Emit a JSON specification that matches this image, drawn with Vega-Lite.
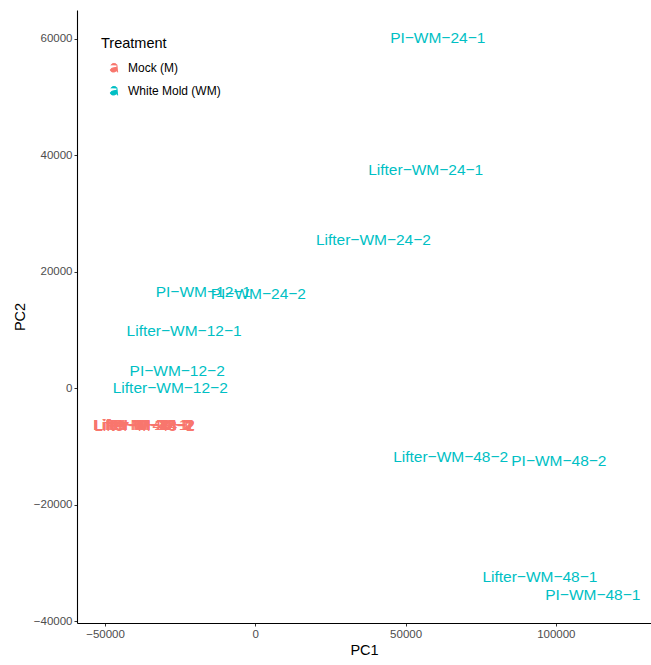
{
  "$schema": "https://vega.github.io/schema/vega-lite/v6.json",
  "width": 574,
  "height": 613,
  "autosize": "none",
  "padding": {"left": 77, "top": 10, "right": 0, "bottom": 42},
  "background": "white",
  "config": {
    "view": {"stroke": null},
    "font": "Liberation Sans",
    "axis": {
      "grid": false,
      "domainColor": "#000000",
      "domainWidth": 1.1,
      "tickColor": "#333333",
      "tickSize": 3,
      "tickWidth": 1,
      "labelColor": "#4D4D4D",
      "labelFont": "Liberation Sans",
      "labelFontSize": 11.5,
      "labelPadding": 2,
      "titleFont": "Liberation Sans",
      "titleFontSize": 14.5,
      "titleFontWeight": "normal",
      "titleColor": "#000000"
    }
  },
  "data": {
    "values": [
      {"label": "PI−WM−24−1", "Treatment": "White Mold (WM)", "PC1": 60700, "PC2": 60100},
      {"label": "Lifter−WM−24−1", "Treatment": "White Mold (WM)", "PC1": 56700, "PC2": 37500},
      {"label": "Lifter−WM−24−2", "Treatment": "White Mold (WM)", "PC1": 39300, "PC2": 25500},
      {"label": "PI−WM−12−1", "Treatment": "White Mold (WM)", "PC1": -17300, "PC2": 16600},
      {"label": "PI−WM−24−2", "Treatment": "White Mold (WM)", "PC1": 1000, "PC2": 16100},
      {"label": "Lifter−WM−12−1", "Treatment": "White Mold (WM)", "PC1": -23700, "PC2": 9900},
      {"label": "PI−WM−12−2", "Treatment": "White Mold (WM)", "PC1": -26000, "PC2": 2900},
      {"label": "Lifter−WM−12−2", "Treatment": "White Mold (WM)", "PC1": -28300, "PC2": 0},
      {"label": "Lifter−WM−48−2", "Treatment": "White Mold (WM)", "PC1": 65000, "PC2": -11800},
      {"label": "PI−WM−48−2", "Treatment": "White Mold (WM)", "PC1": 101000, "PC2": -12500},
      {"label": "Lifter−WM−48−1", "Treatment": "White Mold (WM)", "PC1": 94700, "PC2": -32400},
      {"label": "PI−WM−48−1", "Treatment": "White Mold (WM)", "PC1": 112300, "PC2": -35500},
      {"label": "Lifter−M−12−1", "Treatment": "Mock (M)", "PC1": -37300, "PC2": -6300},
      {"label": "Lifter−M−12−2", "Treatment": "Mock (M)", "PC1": -37100, "PC2": -6400},
      {"label": "Lifter−M−24−1", "Treatment": "Mock (M)", "PC1": -37000, "PC2": -6250},
      {"label": "Lifter−M−24−2", "Treatment": "Mock (M)", "PC1": -36800, "PC2": -6350},
      {"label": "Lifter−M−48−1", "Treatment": "Mock (M)", "PC1": -37200, "PC2": -6300},
      {"label": "Lifter−M−48−2", "Treatment": "Mock (M)", "PC1": -36900, "PC2": -6450},
      {"label": "PI−M−12−1", "Treatment": "Mock (M)", "PC1": -35500, "PC2": -6300},
      {"label": "PI−M−12−2", "Treatment": "Mock (M)", "PC1": -34500, "PC2": -6400},
      {"label": "PI−M−24−1", "Treatment": "Mock (M)", "PC1": -35000, "PC2": -6250},
      {"label": "PI−M−24−2", "Treatment": "Mock (M)", "PC1": -33700, "PC2": -6350},
      {"label": "PI−M−48−1", "Treatment": "Mock (M)", "PC1": -36000, "PC2": -6300},
      {"label": "PI−M−48−2", "Treatment": "Mock (M)", "PC1": -34000, "PC2": -6400}
    ]
  },
  "mark": {"type": "text", "fontSize": 15.5, "font": "Liberation Sans", "baseline": "middle", "align": "center"},
  "encoding": {
    "x": {
      "field": "PC1", "type": "quantitative",
      "scale": {"domain": [-59333, 131667], "nice": false, "zero": false},
      "axis": {"values": [-50000, 0, 50000, 100000], "format": "d", "title": "PC1", "titlePadding": 4, "labelFlush": false, "labelOverlap": false}
    },
    "y": {
      "field": "PC2", "type": "quantitative",
      "scale": {"domain": [-40340, 64970], "nice": false, "zero": false},
      "axis": {"values": [-40000, -20000, 0, 20000, 40000, 60000], "format": "d", "title": "PC2", "titlePadding": 6, "labelFlush": false, "labelOverlap": false}
    },
    "text": {"field": "label"},
    "color": {
      "field": "Treatment", "type": "nominal",
      "scale": {"domain": ["Mock (M)", "White Mold (WM)"], "range": ["#F8766D", "#00BFC4"]},
      "legend": {
        "orient": "none",
        "legendX": 24,
        "legendY": 27,
        "title": "Treatment",
        "titleFontSize": 14.5,
        "titleFontWeight": "normal",
        "titleColor": "#000000",
        "titlePadding": 10,
        "labelFontSize": 12,
        "labelColor": "#000000",
        "labelOffset": 8,
        "symbolOffset": 7,
        "rowPadding": 9,
        "symbolType": "M0.55,-0.35 C0.55,-0.85 -0.45,-0.85 -0.55,-0.4 M0.55,-0.35 L0.55,0.6 C0.55,0.8 0.62,0.85 0.75,0.82 M0.55,-0.05 C0.1,0.05 -0.65,0.05 -0.65,0.45 C-0.65,0.95 0.35,0.95 0.55,0.45",
        "symbolSize": 120,
        "symbolStrokeWidth": 1.0,
        "symbolFillColor": "transparent",
        "encode": {"symbols": {"update": {"stroke": {"field": "value", "scale": "color"}, "fill": {"value": "transparent"}}}}
      }
    }
  }
}
